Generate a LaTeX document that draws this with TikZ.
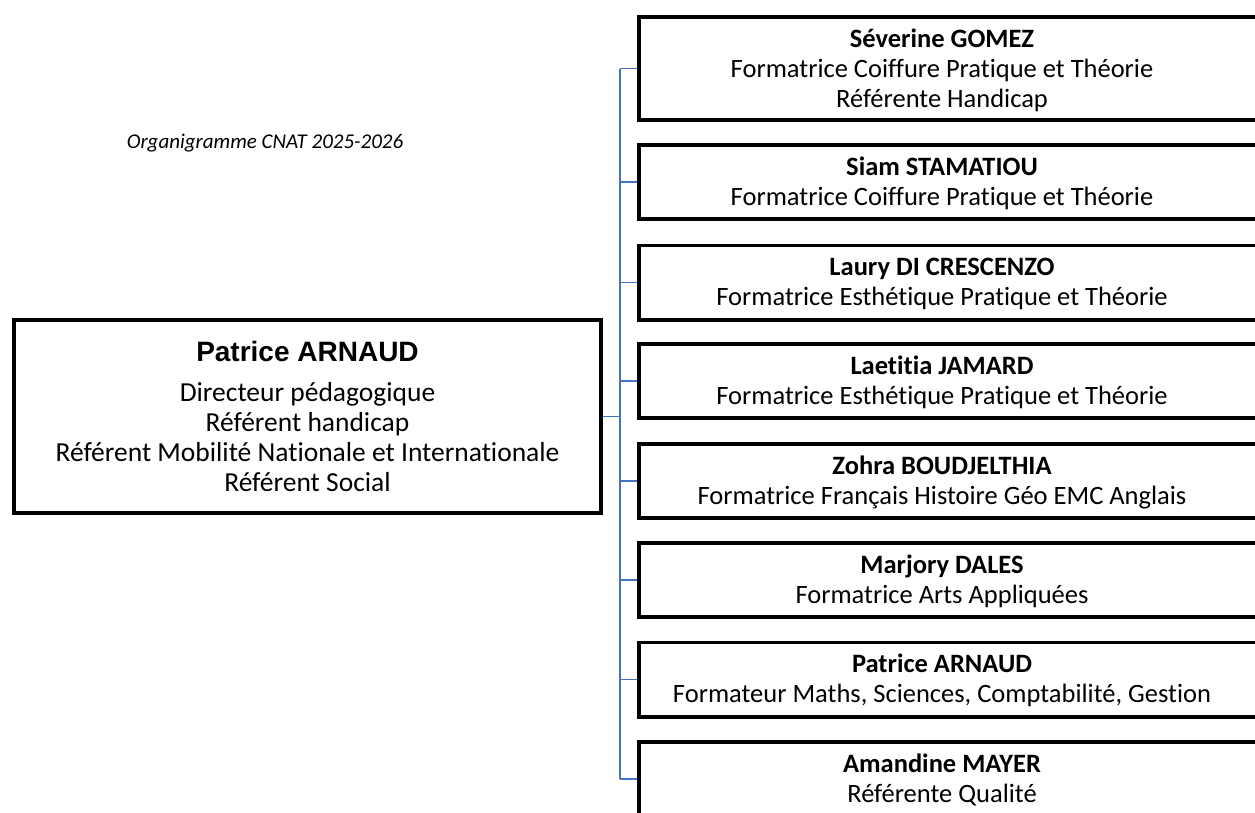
\documentclass[tikz,border=0pt]{standalone}
\usepackage{fontspec}
\setmainfont{Carlito}[Ligatures=NoCommon]
\newfontfamily\arialfont{Liberation Sans}
\definecolor{connblue}{RGB}{68,114,196}
\begin{document}
\begin{tikzpicture}[x=1pt,y=-1pt,
  rbox/.style={draw=black, line width=3.8pt, fill=white, inner sep=0pt, minimum width=640, minimum height=74.2},
  conn/.style={draw=connblue, line width=1.6pt},
  rtxt/.style={font=\fontsize{26.5}{30}\selectfont, align=center, inner sep=0pt},
  ltxt/.style={font=\fontsize{27.5}{30}\selectfont, align=center, inner sep=0pt},
]
\useasboundingbox (0,0) rectangle (1255,812);
\clip (0,0) rectangle (1255,812);
\fill[white] (0,0) rectangle (1255,812);

% caption
\node[font=\fontsize{21}{24}\selectfont\itshape, inner sep=0pt] (cap) at (265,143) {Organigramme CNAT 2025-2026};

% left box
\node[draw=black, line width=3.8pt, fill=white, minimum width=587.2, minimum height=193.2, inner sep=0pt] (L) at (307.5,416.5) {};
\node[font=\arialfont\bfseries\fontsize{28}{30}\selectfont, inner sep=0pt] (Lt) at (307.5,351) {Patrice ARNAUD};
\node[ltxt] (Lb) at (307.5,437) {Directeur pédagogique\\Référent handicap\\Référent Mobilité Nationale et Internationale\\Référent Social};

% right boxes
\node[rbox, minimum height=103.2] (b1) at (958.9,68.5) {};
\node[rbox] (b2) at (958.9,182) {};
\node[rbox] (b3) at (958.9,282.5) {};
\node[rbox] (b4) at (958.9,381) {};
\node[rbox] (b5) at (958.9,481) {};
\node[rbox] (b6) at (958.9,580) {};
\node[rbox] (b7) at (958.9,679.5) {};
\node[rbox] (b8) at (958.9,779) {};

\node[rtxt] (t1) at (942,70) {\textbf{Séverine GOMEZ}\\Formatrice Coiffure Pratique et Théorie\\Référente Handicap};
\node[rtxt] (t2) at (942,183) {\textbf{Siam STAMATIOU}\\Formatrice Coiffure Pratique et Théorie};
\node[rtxt] (t3) at (942,283.5) {\textbf{Laury DI CRESCENZO}\\Formatrice Esthétique Pratique et Théorie};
\node[rtxt] (t4) at (942,382) {\textbf{Laetitia JAMARD}\\Formatrice Esthétique Pratique et Théorie};
\node[rtxt] (t5) at (942,482) {\textbf{Zohra BOUDJELTHIA}\\Formatrice Français Histoire Géo EMC Anglais};
\node[rtxt] (t6) at (942,581) {\textbf{Marjory DALES}\\Formatrice Arts Appliquées};
\node[rtxt] (t7) at (942,680.5) {\textbf{Patrice ARNAUD}\\Formateur Maths, Sciences, Comptabilité, Gestion};
\node[rtxt] (t8) at (942,780) {\textbf{Amandine MAYER}\\Référente Qualité};

% connectors
\coordinate (j) at (620,416.5);
\draw[conn] (L.east) -- (j);
\draw[conn] (b1.west -| j) -- (b8.west -| j);
\foreach \b in {b1,b2,b3,b4,b5,b6,b7,b8}{
  \draw[conn] (\b.west -| j) -- (\b.west);
}
\end{tikzpicture}
\end{document}
